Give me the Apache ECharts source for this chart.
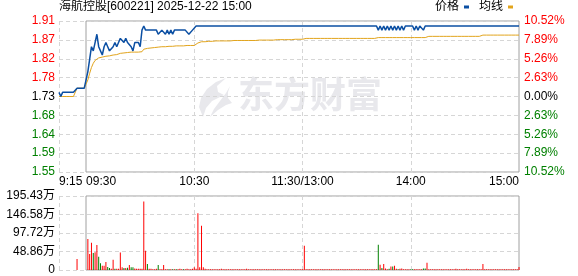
<!DOCTYPE html>
<html>
<head>
<meta charset="utf-8">
<script src="https://cdn.jsdelivr.net/npm/echarts@6/dist/echarts.min.js"></script>
<style>
html,body{margin:0;padding:0;background:#fff;}
#c{width:578px;height:276px;}
</style>
</head>
<body>
<div id="c"></div>
<script>
// ---------------- data ----------------
const stockTitle = '海航控股[600221] 2025-12-22 15:00';
const prevClose = 1.73;

// call auction 9:15-9:29
const prePrice = [1.74,1.73,1.74,1.74,1.74,1.74,1.74,1.74,1.74,1.74,1.75,1.75,1.75,1.75,1.75];
const preAvg   = [1.73,1.73,1.73,1.73,1.73,1.73,1.73,1.73,1.73,1.73,1.75,1.75,1.75,1.75,1.75];
const preVol   = [0,0,0,0,0,0,0,0,0,0,29,0,0,0,0];
const preUp    = [1,1,1,1,1,1,1,1,1,1,1,1,1,1,1];

// morning 9:30-11:30 (121 minutes)
const amPrice = [
 1.75,1.79,1.82,1.85,1.84,1.86,1.88,1.85,1.84,1.83,
 1.85,1.86,1.85,1.84,1.84,1.85,1.86,1.85,1.86,1.87,
 1.87,1.86,1.87,1.86,1.86,1.85,1.84,1.86,1.86,1.86,
 1.85,1.89,1.90,1.89,1.89,1.89,1.89,1.89,1.89,1.89,
 1.88,1.88,1.89,1.89,1.88,1.89,1.88,1.89,1.88,1.89,
 1.89,1.89,1.89,1.89,1.89,1.89,1.89,1.88,1.88,1.89,
 1.89,1.90,1.90,1.90,1.90,1.90,1.90,1.90,1.90,1.90,
 1.90,1.90,1.90,1.90,1.90,1.90,1.90,1.90,1.90,1.90,
 1.90,1.90,1.90,1.90,1.90,1.90,1.90,1.90,1.90,1.90,
 1.90,1.90,1.90,1.90,1.90,1.90,1.90,1.90,1.90,1.90,
 1.90,1.90,1.90,1.90,1.90,1.90,1.90,1.90,1.90,1.90,
 1.90,1.90,1.90,1.90,1.90,1.90,1.90,1.90,1.90,1.90,
 1.90];
const amAvg = [
 1.750,1.770,1.786,1.800,1.810,1.817,1.821,1.823,1.824,1.825,
 1.826,1.827,1.828,1.828,1.829,1.830,1.830,1.831,1.832,1.834,
 1.835,1.835,1.836,1.836,1.837,1.837,1.837,1.837,1.837,1.837,
 1.837,1.838,1.844,1.846,1.846,1.847,1.847,1.848,1.848,1.848,
 1.849,1.849,1.850,1.850,1.850,1.850,1.851,1.851,1.851,1.851,
 1.852,1.852,1.852,1.852,1.852,1.852,1.853,1.853,1.853,1.853,
 1.853,1.853,1.859,1.859,1.862,1.862,1.862,1.863,1.863,1.863,
 1.863,1.864,1.864,1.864,1.864,1.864,1.864,1.864,1.864,1.864,
 1.864,1.865,1.865,1.865,1.865,1.865,1.865,1.865,1.865,1.865,
 1.865,1.865,1.865,1.865,1.865,1.865,1.866,1.866,1.866,1.866,
 1.866,1.866,1.866,1.866,1.866,1.866,1.867,1.867,1.867,1.867,
 1.867,1.867,1.867,1.867,1.867,1.867,1.868,1.868,1.868,1.868,
 1.868];
const amVol = [
 0,82,42,72,45,47,66,35,18,11,
 11,21,8,5,3,27,3,3,3,46,
 7,5,5,6,13,7,7,4,3,3,
 3,3,181,51,16,3,3,2,2,3,
 13,2,2,13,2,2,2,2,2,2,
 2,2,3,2,2,2,3,2,2,3,
 7,3,150,7,117,7,3,2,2,2,
 2,2,2,2,2,3,2,2,2,2,
 2,2,2,2,2,2,2,2,2,3,
 2,2,2,2,2,2,2,2,2,2,
 2,2,2,2,2,2,2,2,2,2,
 2,2,2,2,2,2,2,2,2,2,
 2];
const amUp = [
 1,1,1,1,0,1,1,0,0,1,
 1,1,0,0,1,1,0,1,1,1,
 1,0,1,0,1,0,0,1,1,1,
 1,1,1,1,0,1,1,1,1,1,
 0,1,1,1,1,1,0,1,0,1,
 0,1,1,1,0,1,1,1,1,1,
 1,1,1,1,1,1,1,1,1,1,
 1,1,1,1,1,1,1,1,1,1,
 1,1,1,1,1,1,1,1,1,1,
 1,1,1,1,1,1,1,1,1,1,
 1,1,1,1,1,1,1,1,1,1,
 1,1,1,1,1,1,1,1,1,1,
 1];

// afternoon 13:01-15:00 (120 minutes)
const pmPrice = [
 1.90,1.90,1.90,1.90,1.90,1.90,1.90,1.90,1.90,1.90,
 1.90,1.90,1.90,1.90,1.90,1.90,1.90,1.90,1.90,1.90,
 1.90,1.90,1.90,1.90,1.90,1.90,1.90,1.90,1.90,1.90,
 1.90,1.90,1.90,1.90,1.90,1.90,1.90,1.90,1.90,1.90,
 1.90,1.89,1.90,1.89,1.90,1.89,1.90,1.89,1.90,1.89,
 1.90,1.89,1.90,1.89,1.90,1.89,1.90,1.90,1.90,1.90,
 1.90,1.89,1.90,1.89,1.90,1.90,1.89,1.90,1.90,1.90,
 1.90,1.90,1.90,1.90,1.90,1.90,1.90,1.90,1.90,1.90,
 1.90,1.90,1.90,1.90,1.90,1.90,1.90,1.90,1.90,1.90,
 1.90,1.90,1.90,1.90,1.90,1.90,1.90,1.90,1.90,1.90,
 1.90,1.90,1.90,1.90,1.90,1.90,1.90,1.90,1.90,1.90,
 1.90,1.90,1.90,1.90,1.90,1.90,1.90,1.90,1.90,1.90];
const pmAvg = [
 1.870,1.870,1.870,1.870,1.870,1.870,1.870,1.870,1.870,1.870,
 1.870,1.870,1.870,1.870,1.870,1.870,1.870,1.870,1.870,1.870,
 1.870,1.870,1.870,1.870,1.870,1.870,1.870,1.870,1.870,1.870,
 1.870,1.870,1.870,1.870,1.870,1.870,1.870,1.870,1.870,1.870,
 1.870,1.872,1.872,1.872,1.872,1.872,1.872,1.872,1.872,1.872,
 1.872,1.872,1.872,1.872,1.872,1.872,1.872,1.872,1.872,1.872,
 1.872,1.872,1.872,1.872,1.872,1.872,1.872,1.872,1.875,1.875,
 1.875,1.875,1.875,1.875,1.875,1.875,1.875,1.875,1.875,1.875,
 1.875,1.875,1.875,1.875,1.875,1.875,1.875,1.875,1.875,1.875,
 1.875,1.875,1.875,1.875,1.875,1.875,1.875,1.875,1.875,1.878,
 1.878,1.878,1.878,1.878,1.878,1.878,1.878,1.878,1.878,1.878,
 1.878,1.878,1.878,1.878,1.878,1.878,1.878,1.878,1.878,1.878];
const pmVol = [
 64,2,2,2,2,2,2,2,2,2,
 2,2,2,2,2,2,2,2,2,2,
 2,2,2,2,2,2,2,2,2,2,
 2,2,2,2,2,2,2,2,2,2,
 2,67,14,5,16,4,2,3,9,9,
 11,3,2,3,4,2,2,2,2,2,
 2,2,2,2,2,2,4,4,19,2,
 2,2,2,2,2,2,2,2,2,2,
 2,2,2,2,3,2,2,2,2,2,
 3,2,2,2,2,2,2,2,2,16,
 2,2,2,2,2,2,2,2,2,2,
 2,2,2,2,2,2,2,2,2,8];
const pmUp = [
 1,1,1,1,1,1,1,1,1,1,
 1,1,1,1,1,1,1,1,1,1,
 1,1,1,1,1,1,1,1,1,1,
 1,1,1,1,1,1,1,1,1,1,
 1,0,1,0,1,1,1,0,1,0,
 1,1,0,1,1,1,1,1,1,0,
 0,1,1,1,1,1,0,0,1,1,
 1,1,1,1,1,1,1,1,1,1,
 1,1,1,1,1,1,1,1,1,1,
 1,1,1,1,1,1,1,1,1,1,
 1,1,1,1,1,1,1,1,1,1,
 1,1,1,1,1,1,1,1,1,1];

// tick labels
const xTickIdx  = [0, 15, 75, 135, 195, 255];
const xTickText = ['9:15', '09:30', '10:30', '11:30/13:00', '14:00', '15:00'];
const xGridIdx  = [0, 75, 135, 195];
const priceTickLabels = ['1.55','1.59','1.64','1.68','1.73','1.78','1.82','1.87','1.91'];
const pctTickLabels   = ['10.52%','7.89%','5.26%','2.63%','0.00%','2.63%','5.26%','7.89%','10.52%'];
const volTickLabels   = ['0','48.86万','97.72万','146.58万','195.43万'];
const pctMax = 10.52, pctStep = 2.63;
const volMax = 195.43;

// ---------------- build ----------------
function hm(t){ return Math.floor(t/60) + ':' + String(t%60).padStart(2,'0'); }
const times = [];
for (let t = 555; t < 570; t++) times.push(hm(t));
for (let t = 570; t <= 690; t++) times.push(hm(t));
for (let t = 781; t <= 900; t++) times.push(hm(t));

const toPct = p => +(((p / prevClose) - 1) * 100).toFixed(4);
const priceData = prePrice.concat(amPrice, pmPrice).map(toPct);
const avgData = preAvg.concat(amAvg, pmAvg).map(toPct);
const volAll = preVol.concat(amVol, pmVol);
const upAll = preUp.concat(amUp, pmUp);
const volData = volAll.map((v, i) => ({ value: v, itemStyle: { color: upAll[i] ? '#ff0000' : '#008000' } }));

const FONT = "'Liberation Sans', 'Noto Sans CJK SC', sans-serif";
const RED = '#ff0000', GREEN = '#008000', BLACK = '#000000';
const BLUE = '#0b4fa3', ORANGE = '#e2a41c';
const GRIDC = '#d6d6d6', BORDER = '#a0a0a0', WM = '#e8e8ec';
const volStep = volMax / 4;

const richColors = {
  r: { color: RED, fontSize: 12, fontFamily: FONT },
  g: { color: GREEN, fontSize: 12, fontFamily: FONT },
  k: { color: BLACK, fontSize: 12, fontFamily: FONT }
};
function pctIndex(v){ return Math.round((v + pctMax) / pctStep); }
function cls(k){ return k < 4 ? 'g' : (k > 4 ? 'r' : 'k'); }

const dashed = { show: true, lineStyle: { color: GRIDC, type: [4, 3], width: 1 } };

const chart = echarts.init(document.getElementById('c'), null, { renderer: 'canvas' });
chart.setOption({
  animation: false,
  backgroundColor: '#ffffff',
  title: {
    text: stockTitle, left: 59, top: 1, padding: 0,
    textStyle: { fontSize: 12, fontWeight: 'normal', color: BLACK, fontFamily: FONT }
  },
  legend: {
    right: 65, top: 1, padding: 0, align: 'right', itemGap: 10,
    itemWidth: 5, itemHeight: 3,
    textStyle: { fontSize: 12, color: BLACK, fontFamily: FONT },
    data: [{ name: '价格', icon: 'rect' }, { name: '均线', icon: 'rect' }],
    selectedMode: false
  },
  graphic: [
    {
      type: 'polygon', z: -10, silent: true,
      shape: { points: [[226,78],[216,82],[207,89],[201,98],[199,107],[203,117],[206,108],[212,101],[224,95],[218,92],[217,86]] },
      style: { fill: WM }
    },
    {
      type: 'polygon', z: -10, silent: true,
      shape: { points: [[230,86],[226,93],[220,101],[214,109],[210,117],[218,110],[226,105],[232,103],[228,98],[228,92]] },
      style: { fill: WM }
    },
    {
      type: 'text', z: -10, silent: true, left: 238, top: 76,
      style: { text: '东方财富', fill: WM, font: 'bold 36px "Noto Sans CJK SC"' }
    }
  ],
  grid: [
    { left: 59, right: 59, top: 21, height: 151 },
    { left: 59, right: 59, top: 196, height: 74 },
    { left: 86, right: 59, top: 21, height: 151, show: true, borderColor: BORDER, borderWidth: 1, backgroundColor: 'transparent' },
    { left: 86, right: 59, top: 196, height: 74, show: true, borderColor: BORDER, borderWidth: 1, backgroundColor: 'transparent' }
  ],
  xAxis: [
    {
      type: 'category', gridIndex: 0, data: times, boundaryGap: false,
      axisLine: { show: false }, axisTick: { show: false },
      axisLabel: {
        interval: (i) => xTickIdx.includes(i),
        formatter: (v, i) => {
          const k = xTickIdx.indexOf(i);
          if (k < 0) return '';
          return k === 1 ? '{l|' + xTickText[k] + '}' : xTickText[k];
        },
        rich: { l: { padding: [0, 0, 0, 30], fontSize: 12, fontFamily: FONT, color: BLACK } },
        alignMinLabel: 'left', alignMaxLabel: 'right',
        margin: 4, color: BLACK, fontSize: 12, fontFamily: FONT
      },
      splitLine: Object.assign({ interval: (i) => xGridIdx.includes(i) }, dashed)
    },
    {
      type: 'category', gridIndex: 1, data: times, boundaryGap: false,
      axisLine: { show: false }, axisTick: { show: false }, axisLabel: { show: false },
      splitLine: Object.assign({ interval: (i) => xGridIdx.includes(i) }, dashed)
    },
    { type: 'value', gridIndex: 2, show: false },
    { type: 'value', gridIndex: 3, show: false }
  ],
  yAxis: [
    {
      type: 'value', gridIndex: 0, position: 'left', min: -pctMax, max: pctMax, interval: pctStep,
      axisLine: { show: false }, axisTick: { show: false },
      axisLabel: {
        margin: 4, rich: richColors,
        formatter: (v) => { const k = pctIndex(v); return '{' + cls(k) + '|' + priceTickLabels[k] + '}'; }
      },
      splitLine: dashed
    },
    {
      type: 'value', gridIndex: 0, position: 'right', min: -pctMax, max: pctMax, interval: pctStep,
      axisLine: { show: false }, axisTick: { show: false }, splitLine: { show: false },
      axisLabel: {
        margin: 5, rich: richColors,
        formatter: (v) => { const k = pctIndex(v); return '{' + cls(k) + '|' + pctTickLabels[k] + '}'; }
      }
    },
    {
      type: 'value', gridIndex: 1, position: 'left', min: 0, max: volMax, interval: volStep,
      axisLine: { show: false }, axisTick: { show: false },
      axisLabel: {
        margin: 4, color: BLACK, fontSize: 12, fontFamily: FONT,
        formatter: (v) => volTickLabels[Math.round(v / volStep)]
      },
      splitLine: dashed
    },
    { type: 'value', gridIndex: 2, show: false },
    { type: 'value', gridIndex: 3, show: false }
  ],
  series: [
    {
      name: '价格', type: 'line', xAxisIndex: 0, yAxisIndex: 0, data: priceData,
      showSymbol: false, symbol: 'none', color: BLUE,
      lineStyle: { color: BLUE, width: 1.5 }, z: 4
    },
    {
      name: '均线', type: 'line', xAxisIndex: 0, yAxisIndex: 0, data: avgData,
      showSymbol: false, symbol: 'none', color: ORANGE,
      lineStyle: { color: ORANGE, width: 1 }, z: 3
    },
    {
      name: '成交量', type: 'bar', xAxisIndex: 1, yAxisIndex: 2, data: volData,
      barWidth: 1, z: 3
    }
  ]
});
</script>
</body>
</html>
